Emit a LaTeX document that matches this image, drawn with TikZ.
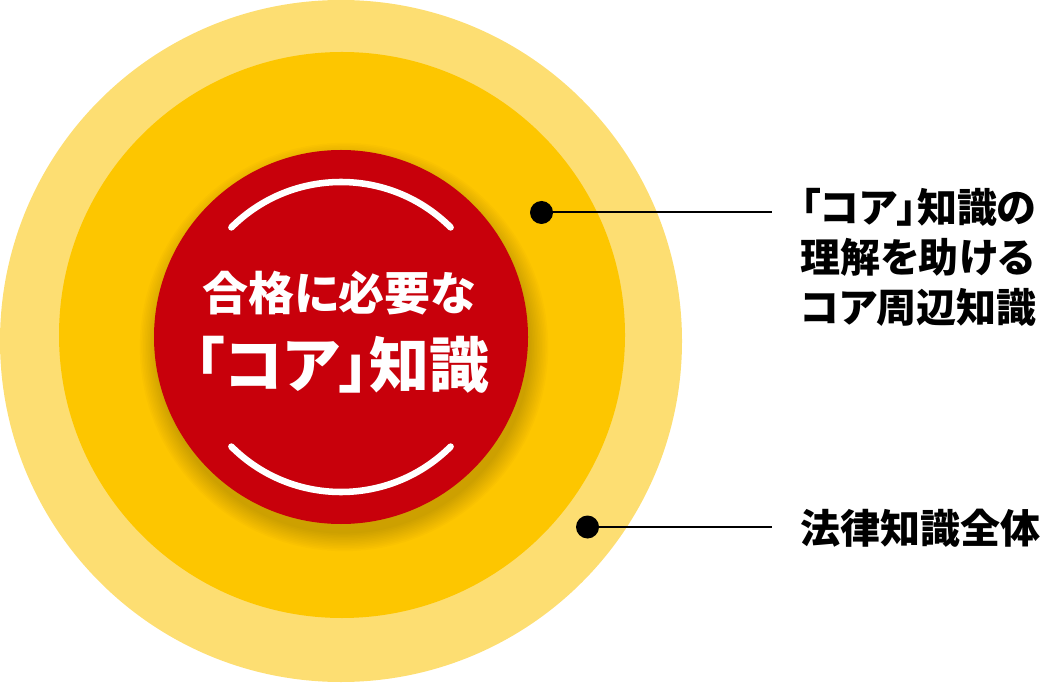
\documentclass[tikz,border=0pt]{standalone}
\usepackage{fontspec}
\newfontfamily\jpfont[RawFeature=+palt]{Noto Sans CJK JP}
\usepackage{tikz}
\usetikzlibrary{shapes, arrows, positioning}
\definecolor{outerc}{HTML}{FDDE72}
\definecolor{midc}{HTML}{FDC600}
\definecolor{redc}{HTML}{C8000B}
\begin{document}
\begin{tikzpicture}[x=0.75pt, y=0.75pt, thick]
    % Define styles
    \tikzstyle{disc} = [circle, inner sep=0pt, draw=none]
    \tikzstyle{ring} = [draw=white, line width=4.9pt, line cap=round]
    \tikzstyle{dot} = [circle, fill=black, inner sep=0pt, minimum size=17.25pt]
    \tikzstyle{line} = [draw, line width=1.5pt]
    \tikzstyle{tag} = [inner sep=0pt, align=left, font=\jpfont\bfseries\fontsize{30pt}{37.5pt}\selectfont]
    \useasboundingbox (0,0) rectangle (1044,682);

    % Define circles
    \node [disc, fill=outerc, minimum size=511.5pt] (whole) at (341,341) {};
    \node [disc, fill=midc, minimum size=424.5pt] (periphery) at (342,347) {};
    \foreach \i in {1,...,12}
        \fill [black, opacity=0.017] (344,335) circle [radius=185+1.6*\i];
    \node [disc, fill=redc, minimum size=280.5pt] (core) at (341,345) {};

    % Define texts
    \node [text=white, font=\jpfont\bfseries\fontsize{34.5pt}{40pt}\selectfont] (need) at (339,389) {合格に必要な};
    \node [text=white, font=\jpfont\bfseries\fontsize{45pt}{50pt}\selectfont] (coreword) at (342,317) {「コア」知識};
    \draw [ring] ([shift={(45:155)}]core.center) arc [start angle=45, end angle=135, radius=155];
    \draw [ring] ([shift={(225:155)}]core.center) arc [start angle=225, end angle=315, radius=155];

    % Define labels
    \node [dot] (coredot) at (541.5,469.5) {};
    \node [dot] (alldot) at (587.5,155) {};
    \coordinate (coreend) at (772,469.5);
    \coordinate (allend) at (772,155);
    \node [tag, anchor=west] (corelabel) at (800,425) {「コア」知識の\\理解を助ける\\コア周辺知識};
    \node [tag, anchor=west] (alllabel) at (800,154) {法律知識全体};

    % Draw edges
    \path [line] (coredot.center) -- (coreend);
    \path [line] (alldot.center) -- (allend);
\end{tikzpicture}
\end{document}
